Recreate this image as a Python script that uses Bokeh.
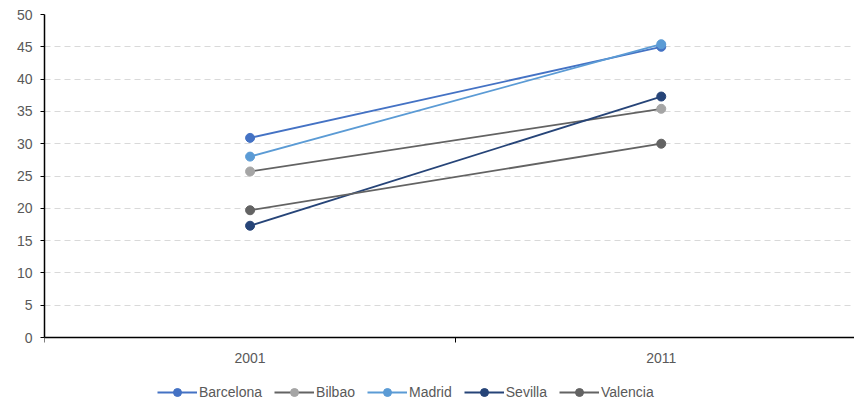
from bokeh.plotting import figure
from bokeh.models import FixedTicker, Legend, LegendItem, Range1d
from bokeh.embed import file_html
from bokeh.resources import INLINE

years = ["2001", "2011"]
barcelona = [30.9, 45.0]
bilbao = [25.7, 35.4]
madrid = [28.0, 45.4]
sevilla = [17.3, 37.3]
valencia = [19.7, 30.0]

series = [
    ("Barcelona", barcelona, "#4472c4", "#4472c4"),
    ("Bilbao", bilbao, "#636363", "#a5a5a5"),
    ("Madrid", madrid, "#5b9bd5", "#5b9bd5"),
    ("Sevilla", sevilla, "#264478", "#264478"),
    ("Valencia", valencia, "#636363", "#636363"),
]

xs = [i + 0.5 for i in range(len(years))]

p = figure(width=854, height=404, output_backend="svg", toolbar_location=None,
           x_range=Range1d(0, 1.97), y_range=Range1d(-10.37, 50),
           min_border_left=44, min_border_right=0, min_border_top=14, min_border_bottom=0)
p.outline_line_color = None
p.background_fill_color = "white"

font = "Liberation Sans"
label_color = "#595959"

# y axis
p.yaxis.ticker = FixedTicker(ticks=list(range(0, 51, 5)))
p.yaxis.bounds = (0, 50)
p.yaxis.axis_line_color = "black"
p.yaxis.axis_line_width = 1.5
p.yaxis.major_tick_line_color = "black"
p.yaxis.major_tick_out = 4
p.yaxis.major_tick_in = 0
p.yaxis.minor_tick_line_color = None
p.yaxis.major_label_text_font = font
p.yaxis.major_label_text_font_size = "14px"
p.yaxis.major_label_text_color = label_color
p.yaxis.major_label_standoff = 8

# x axis at y = 0
p.xaxis.fixed_location = 0
p.xaxis.ticker = FixedTicker(ticks=xs, minor_ticks=[0, 1, 2])
p.xaxis.major_label_overrides = {x: y for x, y in zip(xs, years)}
p.xaxis.axis_line_color = "black"
p.xaxis.axis_line_width = 1.5
p.xaxis.major_tick_line_color = None
p.xaxis.minor_tick_line_color = "black"
p.xaxis.minor_tick_out = 5
p.xaxis.minor_tick_in = 0
p.xaxis.major_label_text_font = font
p.xaxis.major_label_text_font_size = "14px"
p.xaxis.major_label_text_color = label_color
p.xaxis.major_label_standoff = 9

p.xgrid.grid_line_color = None
p.ygrid.ticker = FixedTicker(ticks=list(range(5, 51, 5)))
p.ygrid.grid_line_color = "#d9d9d9"
p.ygrid.grid_line_dash = "6 4"
p.ygrid.grid_line_width = 1

items = []
for name, vals, lc, mc in series:
    r1 = p.line(xs, vals, line_color=lc, line_width=1.8)
    r2 = p.scatter(xs, vals, size=9, fill_color=mc, line_color=mc)
    items.append(LegendItem(label=name, renderers=[r1, r2]))

legend = Legend(items=items, orientation="horizontal", location=(113, 2),
                label_text_font=font, label_text_font_size="14px",
                label_text_color=label_color, glyph_width=40, glyph_height=20,
                label_standoff=2, spacing=12, padding=0, margin=0,
                border_line_color=None, background_fill_alpha=0)
p.add_layout(legend, "center")

open("out.html", "w").write(file_html(p, INLINE))
